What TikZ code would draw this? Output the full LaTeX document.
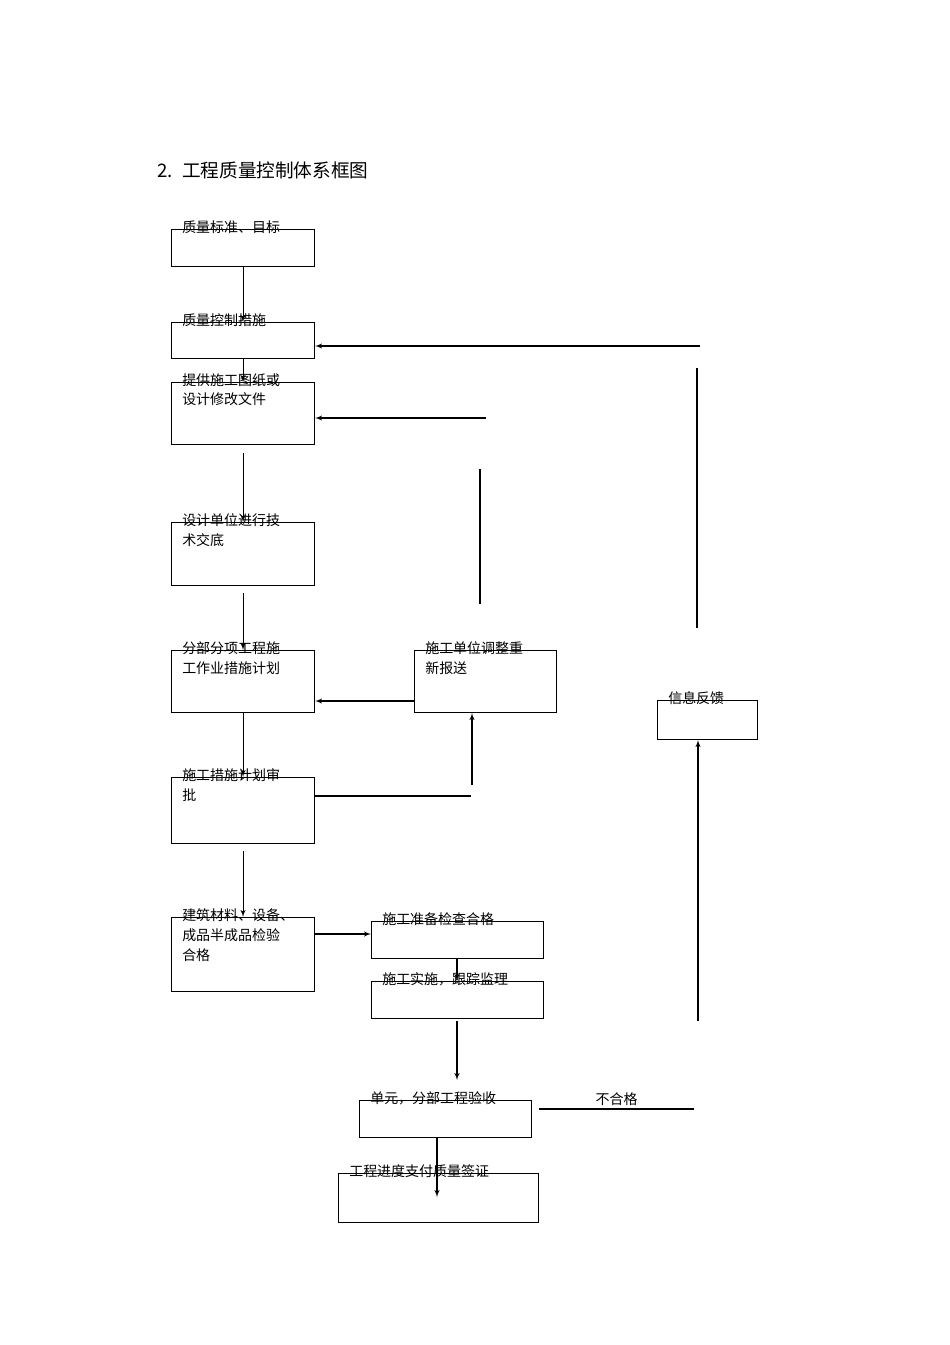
\documentclass[tikz,border=0pt]{standalone}
\usepackage{fontspec}
\setmainfont{Noto Sans CJK SC}
\usetikzlibrary{arrows,calc}
\tikzset{
	box/.style={rectangle, draw=black, thick, inner sep=0pt},
	txt/.style={anchor=north west, align=left, font=\fontsize{10.5}{15}\selectfont, inner sep=0pt},
	edge/.style={->, >=latex', thick},
	plain/.style={thick}
}
\newcommand{\qbox}[6]{% name, l, t, r, b, text
\node[box, minimum width={(#4-#2)*0.0264cm}, minimum height={(#5-#3)*0.0264cm}, anchor=north west] (#1) at (#2,#3) {};
\node[txt] at ($(#2,#3)+(11,-9)$) {#6};}

\begin{document}
\begin{tikzpicture}[x=0.0264cm, y=-0.0264cm]
\useasboundingbox (0,0) rectangle (950,1345);
\node[anchor=west, font=\fontsize{14}{16}\selectfont, inner sep=0pt] (title) at (157,170) {2.\enspace 工程质量控制体系框图};

\qbox{std}{171}{229}{314}{266}{质量标准、目标}
\qbox{ctrl}{171}{322}{314}{358}{质量控制措施}
\qbox{draw}{171}{382}{314}{444}{提供施工图纸或\\设计修改文件}
\qbox{tech}{171}{522}{314}{585}{设计单位进行技\\术交底}
\qbox{plan}{171}{650}{314}{712}{分部分项工程施\\工作业措施计划}
\qbox{adj}{414}{650}{556}{712}{施工单位调整重\\新报送}
\qbox{appr}{171}{777}{314}{843}{施工措施计划审\\批}
\qbox{mat}{171}{917}{314}{991}{建筑材料、设备、\\成品半成品检验\\合格}
\qbox{prep}{371}{921}{543}{958}{施工准备检查合格}
\qbox{impl}{371}{981}{543}{1018}{施工实施，跟踪监理}
\qbox{acc}{359}{1100}{531}{1137}{单元，分部工程验收}
\qbox{pay}{338}{1173}{538}{1222}{工程进度支付质量签证}
\qbox{info}{657}{700}{757}{739}{信息反馈}

% main column
\draw[edge] (std.south) -- (ctrl.north);
\draw[edge] (ctrl.south) -- (draw.north);
\draw[edge] ($(draw.south)+(0,8)$) -- (tech.north);
\draw[edge] ($(tech.south)+(0,7)$) -- (plan.north);
\draw[edge] (plan.south) -- (appr.north);
\draw[edge] ($(appr.south)+(0,7)$) -- (mat.north);
\draw[edge] (mat.east |- 0,934) -- (prep.west |- 0,934);
\draw[edge] (prep.south -| 457,0) -- (impl.north -| 457,0);
\coordinate (k1) at (457,1080);
\draw[edge] ($(impl.south -| 457,0)+(0,2)$) -- (k1);
\coordinate (k2) at (437,1197);
\draw[edge] (acc.south -| 437,0) -- (k2);

% feedback
\draw[edge] (adj.west |- 0,701) -- (plan.east |- 0,701);
\coordinate (g1) at (471,796);
\draw[plain] (appr.east |- g1) -- (g1);
\coordinate (g2) at (472,785);
\draw[edge] (g2) -- (adj.south -| g2);
\coordinate (v1) at (480,469); \coordinate (v2) at (480,604);
\draw[plain] (v1) -- (v2);
\coordinate (c1) at (486,418);
\draw[edge] (c1) -- (draw.east |- c1);
\coordinate (w1) at (697,368); \coordinate (w2) at (697,628);
\draw[plain] (w1) -- (w2);
\coordinate (b1) at (700,346);
\draw[edge] (b1) -- (ctrl.east |- b1);
\coordinate (n1) at (539,1109); \coordinate (n2) at (694,1109);
\draw[plain] (n1) -- node[above=-1pt, font=\fontsize{10.5}{12}\selectfont] {不合格} (n2);
\coordinate (f1) at (698,1021);
\draw[edge] (f1) -- (info.south -| f1);
\end{tikzpicture}
\end{document}
